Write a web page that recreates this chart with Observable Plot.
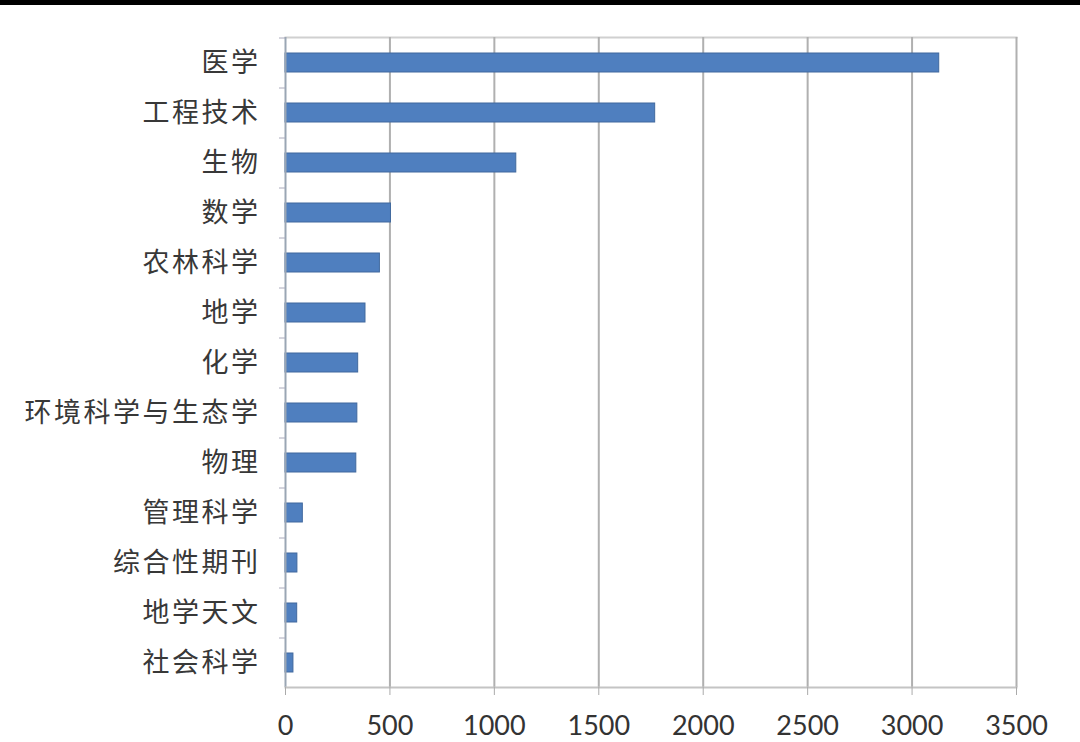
<!DOCTYPE html>
<html>
<head>
<meta charset="utf-8">
<script src="https://cdn.jsdelivr.net/npm/d3@7"></script>
<script src="https://cdn.jsdelivr.net/npm/@observablehq/plot@0.6"></script>
<style>
  html, body { margin: 0; padding: 0; background: #fff; }
  #topbar { height: 5px; background: #000; width: 1080px; }
  #chart svg { display: block; }
  #chart g[aria-label="y-axis tick label"] text { letter-spacing: 2.5px; }
</style>
</head>
<body>
<div id="topbar"></div>
<div id="chart"></div>
<script>
const categories = ["医学", "工程技术", "生物", "数学", "农林科学", "地学", "化学", "环境科学与生态学", "物理", "管理科学", "综合性期刊", "地学天文", "社会科学"];
const values = [3130, 1770, 1105, 505, 452, 383, 348, 344, 339, 83, 57, 56, 38];
const xTicks = [0, 500, 1000, 1500, 2000, 2500, 3000, 3500];

const data = categories.map((c, i) => ({category: c, value: values[i]}));

const chart = Plot.plot({
  width: 1080,
  height: 737,
  marginTop: 32,
  marginBottom: 55,
  marginLeft: 285,
  marginRight: 64,
  style: {fontFamily: "'Noto Sans CJK SC', 'Noto Sans', sans-serif", background: "#fff"},
  x: {domain: [0, 3500], ticks: xTicks},
  y: {domain: categories, padding: 0.62, paddingOuter: 0.31},
  marks: [
    Plot.frame({anchor: "top", stroke: "#d0d0d0", strokeWidth: 2}),
    Plot.ruleX(xTicks.slice(1), {stroke: "#b0b0b0", strokeWidth: 2}),
    Plot.barX(data, {y: "category", x: "value", fill: "#4f7fbf", stroke: "#41699e", strokeWidth: 1}),
    Plot.ruleX([0], {stroke: "#9aa6b4", strokeWidth: 2}),
    Plot.frame({anchor: "bottom", stroke: "#c4c4c4", strokeWidth: 2}),
    Plot.axisX({ticks: xTicks, tickSize: 8, tickPadding: 20, stroke: "#aaa", fontSize: 27, fontFamily: "Lato, 'Open Sans', sans-serif", fill: "#333", label: null, tickFormat: d => String(d)}),
    Plot.axisY({tickSize: 6, text: null, dy: -25, stroke: "#aab", label: null}),
    Plot.axisY({tickSize: 0, tickPadding: 25, fontSize: 27, fill: "#383838", label: null})
  ]
});
document.getElementById("chart").appendChild(chart);
</script>
</body>
</html>
